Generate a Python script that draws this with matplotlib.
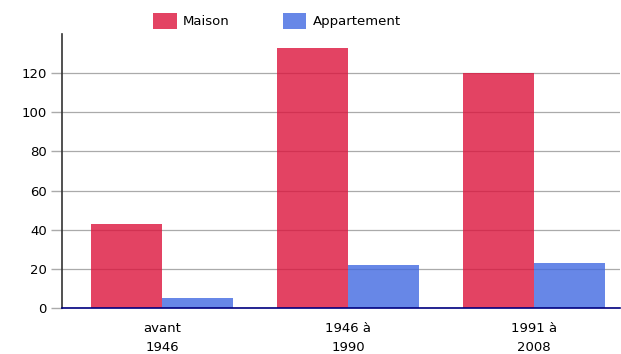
import matplotlib.pyplot as plt
import numpy as np
from matplotlib.patches import Patch

categories = ["avant\n1946", "1946 à\n1990", "1991 à\n2008"]
maison = [43, 133, 120]
appartement = [5, 22, 23]

fig = plt.figure(figsize=(6.21, 3.54), dpi=100)
ax = fig.add_axes([62/621, 1 - 308/354, 558/621, 274/354])

x = np.arange(len(categories)) + 0.5
w = 0.38
ax.bar(x - w/2, maison, w, color="crimson", alpha=0.8, zorder=3)
ax.bar(x + w/2, appartement, w, color="royalblue", alpha=0.8, zorder=3)

ax.set_xlim(-0.038, 2.962)
ax.set_ylim(0, 140)
ax.set_yticks(range(0, 121, 20))
ax.set_xticks(x)
ax.set_xticklabels(categories, fontsize=9.5, linespacing=1.6)
ax.tick_params(axis="x", length=0, pad=10)
ax.tick_params(axis="y", length=8, width=1, color="#aaaaaa", labelsize=9.5, pad=3)
ax.grid(axis="y", color="#aaaaaa", linewidth=0.9, zorder=0)

for s in ["top", "right"]:
    ax.spines[s].set_visible(False)
ax.spines["left"].set_color("#333333")
ax.spines["left"].set_linewidth(1.2)
ax.spines["bottom"].set_color("#000080")
ax.spines["bottom"].set_linewidth(1.2)
ax.spines["bottom"].set_zorder(4)

handles = [Patch(facecolor="crimson", alpha=0.8, label="Maison"),
           Patch(facecolor="royalblue", alpha=0.8, label="Appartement")]
fig.legend(handles=handles, loc="center", bbox_to_anchor=(277/621, 1 - 21/354),
           ncol=2, frameon=False, fontsize=9.5, handlelength=1.8, handleheight=1.4,
           columnspacing=4.0, handletextpad=0.5)

fig.savefig("out.png", dpi=100)
